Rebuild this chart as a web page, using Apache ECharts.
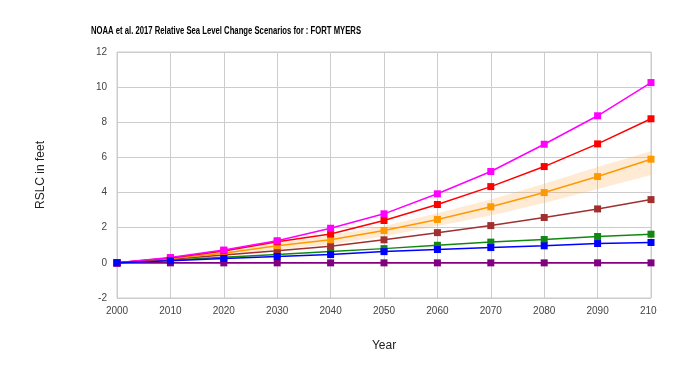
<!DOCTYPE html>
<html>
<head>
<meta charset="utf-8">
<script src="https://cdn.jsdelivr.net/npm/echarts@6/dist/echarts.min.js"></script>
<style>
html,body{margin:0;padding:0;background:#fff;}
#wrap{width:657px;height:366px;overflow:hidden;}
#chart{width:683px;height:366px;}
</style>
</head>
<body>
<div id="wrap"><div id="chart"></div></div>
<script>
var years = [2000, 2010, 2020, 2030, 2040, 2050, 2060, 2070, 2080, 2090, 2100];
var yTicks = [-2, 0, 2, 4, 6, 8, 10, 12];
var extreme      = [0, 0.30, 0.73, 1.26, 1.97, 2.79, 3.93, 5.20, 6.75, 8.37, 10.26];
var high         = [0, 0.28, 0.68, 1.20, 1.64, 2.41, 3.32, 4.34, 5.48, 6.77, 8.20];
var intermHigh   = [0, 0.25, 0.55, 0.98, 1.31, 1.84, 2.47, 3.19, 4.00, 4.91, 5.90];
var intermHighLo = [0, 0.18, 0.42, 0.76, 1.05, 1.52, 2.10, 2.70, 3.40, 4.20, 5.00];
var intermHighHi = [0, 0.32, 0.68, 1.18, 1.55, 2.10, 2.82, 3.60, 4.50, 5.45, 6.35];
var intermediate = [0, 0.20, 0.45, 0.69, 0.94, 1.31, 1.72, 2.12, 2.58, 3.07, 3.60];
var intermLow    = [0, 0.15, 0.32, 0.47, 0.65, 0.81, 1.00, 1.18, 1.33, 1.50, 1.63];
var low          = [0, 0.12, 0.25, 0.36, 0.47, 0.64, 0.76, 0.87, 0.97, 1.10, 1.16];
var noChange     = [0, 0, 0, 0, 0, 0, 0, 0, 0, 0, 0];

function pairs(arr){ return years.map(function(y,i){ return [y, arr[i]]; }); }
var bandData = years.map(function(y,i){ return [y, intermHighLo[i], intermHighHi[i]]; });

function line(name, data, color, z){
  return {
    name: name, type: 'line', data: pairs(data), z: z || 3,
    symbol: 'rect', symbolSize: 7,
    lineStyle: {color: color, width: 1.5},
    itemStyle: {color: color},
    animation: false
  };
}

var chart = echarts.init(document.getElementById('chart'), null, {renderer: 'canvas'});
chart.setOption({
  backgroundColor: '#fff',
  animation: false,
  graphic: [{
    type: 'text', left: 91, top: 26, scaleX: 0.77, originX: 91,
    style: {
      text: 'NOAA et al. 2017 Relative Sea Level Change Scenarios for : FORT MYERS',
      font: 'bold 10px "Liberation Sans", Arial', fill: '#000'
    }
  }],
  grid: {left: 117, right: 32, top: 52, bottom: 68, show: true, borderColor: '#ccc', borderWidth: 1},
  xAxis: {
    type: 'value', min: 2000, max: 2100, interval: 10,
    name: 'Year', nameLocation: 'middle', nameGap: 42,
    nameTextStyle: {fontFamily: 'Liberation Sans, Arial', fontSize: 12, color: '#222'},
    axisLine: {show: true, lineStyle: {color: '#9a9ab0', width: 1}},
    axisTick: {show: false},
    axisLabel: {fontFamily: 'Liberation Sans, Arial', fontSize: 10, color: '#444', margin: 8,
      formatter: function(v){ return String(v); }},
    splitLine: {show: true, lineStyle: {color: '#ccc', width: 1}}
  },
  yAxis: {
    type: 'value', min: -2, max: 12, interval: 2,
    name: 'RSLC in feet', nameLocation: 'middle', nameGap: 70, nameRotate: 90,
    nameTextStyle: {fontFamily: 'Liberation Sans, Arial', fontSize: 12, color: '#222'},
    axisLine: {show: false}, axisTick: {show: false},
    axisLabel: {fontFamily: 'Liberation Sans, Arial', fontSize: 10, color: '#444', margin: 10,
      formatter: function(v){ return yTicks.indexOf(v) >= 0 ? String(v) : ''; }},
    splitLine: {show: true, lineStyle: {color: '#ccc', width: 1}}
  },
  series: [
    {
      name: 'band', type: 'custom', z: 1, silent: true,
      data: bandData,
      renderItem: function(params, api){
        if (params.dataIndex !== 0) return null;
        var top = [], bot = [];
        for (var i = 0; i < bandData.length; i++) {
          top.push(api.coord([bandData[i][0], bandData[i][2]]));
          bot.unshift(api.coord([bandData[i][0], bandData[i][1]]));
        }
        return {type: 'polygon', shape: {points: top.concat(bot)},
                style: {fill: 'rgba(255,175,80,0.25)', stroke: 'none'}};
      }
    },
    line('No change', noChange, '#800080', 4),
    line('Low', low, '#0000ff', 4),
    line('Intermediate-Low', intermLow, '#118811', 3),
    line('Intermediate', intermediate, '#a03030', 3),
    line('Intermediate-High', intermHigh, '#ff9900', 3),
    line('High', high, '#ff0000', 3),
    line('Extreme', extreme, '#ff00ff', 3)
  ]
});
</script>
</body>
</html>
